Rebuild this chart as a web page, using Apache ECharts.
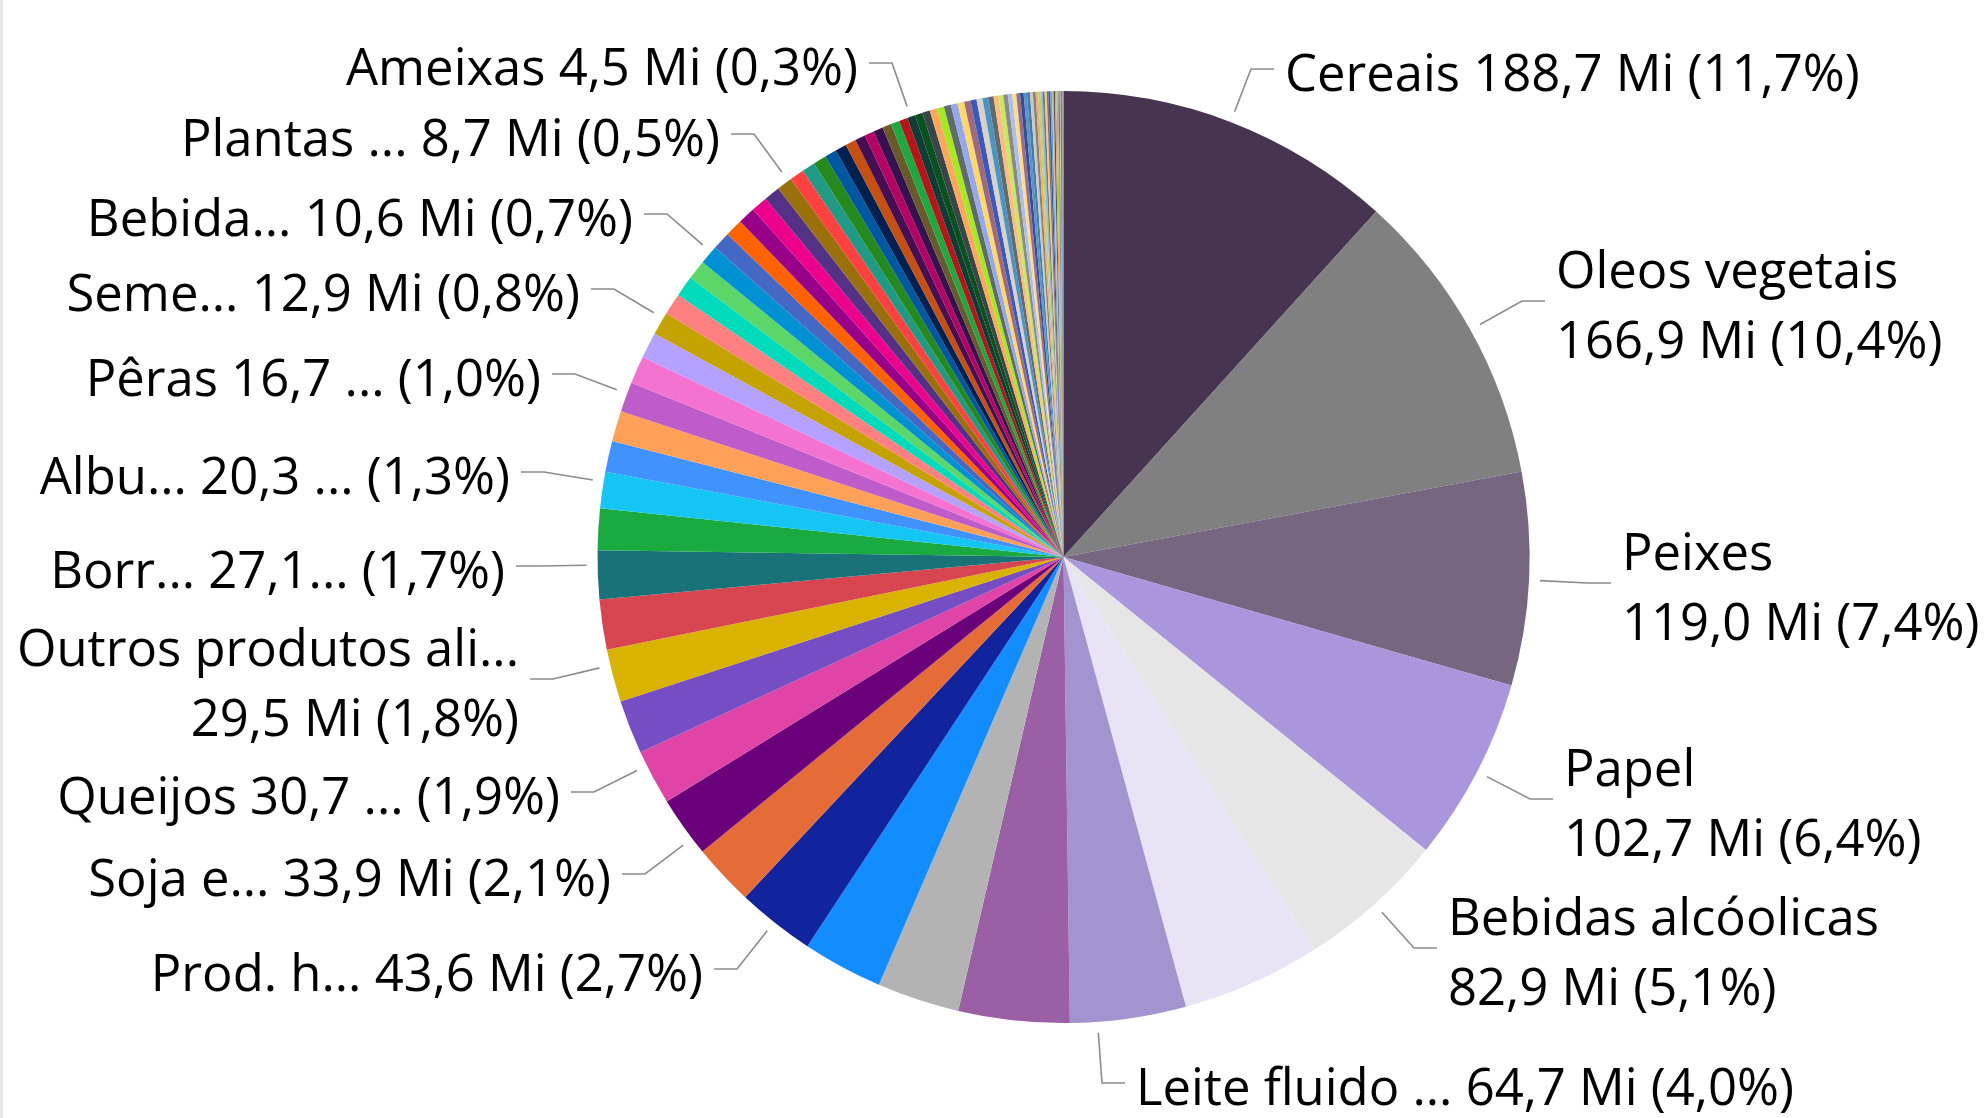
<!DOCTYPE html>
<html>
<head>
<meta charset="utf-8">
<script src="https://cdn.jsdelivr.net/npm/echarts@6/dist/echarts.min.js"></script>
<style>
    html, body { margin: 0; padding: 0; background: #fff; }
    #chart { width: 1985px; height: 1118px; }
</style>
</head>
<body>
<div id="chart"></div>
<script>
// valores em milhões, ordem decrescente (sentido horário a partir do topo)
const values = [
    188.7, 166.9, 119.0, 102.7, 82.9, 77.5, 64.7, 62.0, 46.0, 44.8,
    43.6, 34.5, 33.9, 30.7, 30.0, 29.5, 28.0, 27.1, 23.2, 20.3,
    17.4, 17.1, 16.7, 15.5, 14.5, 12.9, 12.0, 11.5, 11.0, 10.6,
    10.0, 9.9, 9.6, 9.2, 8.9, 8.7, 8.0, 7.4, 7.3, 6.6,
    6.3, 5.9, 5.8, 5.4, 5.3, 5.0, 4.9, 4.7, 4.5,
    4.3, 4.2, 4.1, 4.0, 3.9, 3.8, 3.7, 3.6, 3.4, 3.3, 3.2, 3.0,
    2.8, 2.6, 2.5, 2.4, 2.3, 2.1, 2.0,
    1.8, 1.7, 1.6, 1.5, 1.4, 1.3, 1.2, 1.1, 1.1, 1.0, 1.0, 0.9, 0.9,
    0.8, 0.8, 0.7, 0.6, 0.5, 0.5, 0.4, 0.3, 0.3, 0.2, 0.2, 0.1, 0.1
];

// só as categorias com rótulo visível têm nome
const categories = [
    'Cereais', 'Oleos vegetais', 'Peixes', 'Papel', 'Bebidas alcóolicas', null, 'Leite fluido ...', null, null, null,
    'Prod. h...', null, 'Soja e...', 'Queijos', null, 'Outros produtos ali...', null, 'Borr...', null, 'Albu...',
    null, null, 'Pêras', null, null, 'Seme...', null, null, null, 'Bebida...',
    null, null, null, null, null, 'Plantas ...', null, null, null, null,
    null, null, null, null, null, null, null, null, 'Ameixas'
];

const labelFormats = {
    'Cereais': '{n} {v} Mi ({p})',
    'Oleos vegetais': '{n}\n{v} Mi ({p})',
    'Peixes': '{n}\n{v} Mi ({p})',
    'Papel': '{n}\n{v} Mi ({p})',
    'Bebidas alcóolicas': '{n}\n{v} Mi ({p})',
    'Leite fluido ...': '{n} {v} Mi ({p})',
    'Prod. h...': '{n} {v} Mi ({p})',
    'Soja e...': '{n} {v} Mi ({p})',
    'Queijos': '{n} {v} ... ({p})',
    'Outros produtos ali...': '{n}\n{v} Mi ({p})',
    'Borr...': '{n} {v}... ({p})',
    'Albu...': '{n} {v} ... ({p})',
    'Pêras': '{n} {v} ... ({p})',
    'Seme...': '{n} {v} Mi ({p})',
    'Bebida...': '{n} {v} Mi ({p})',
    'Plantas ...': '{n} {v} Mi ({p})',
    'Ameixas': '{n} {v} Mi ({p})'
};

const colors = [
    '#473450', '#808080', '#776680', '#AA96DC', '#E6E6E6', '#E9E4F5', '#A393CF', '#9A5FA5', '#B3B3B3',
    '#118DFF', '#12239E', '#E66C37', '#6B007B', '#E044A7', '#744EC2', '#D9B300', '#D64550', '#197278', '#1AAB40',
    '#15C6F4', '#4092FF', '#FFA058', '#BE5DC9', '#F472D0', '#B5A1FF', '#C4A200', '#FF8080', '#00DBBC', '#5BD667',
    '#0091D5', '#4668C5', '#FF6300', '#99008A', '#EC008C', '#533285', '#99700A', '#FF4141', '#1F9A85', '#25891C',
    '#0057A2', '#002050', '#C94F0F', '#450F54', '#B60064', '#34124F', '#6A5A29', '#1AAB40', '#BA141A', '#0C3D37',
    '#0B511F', '#374649', '#FFA65C', '#A3EA1E', '#5F6B6D', '#93A8EE', '#FFD966', '#A0697E', '#3759C2', '#DCD0C2',
    '#4895C9', '#5F6B6D', '#FFBA80', '#C6EA5A', '#8A8A8A', '#A9BEF2', '#FEDD84', '#9C6E86', '#2E4FA0', '#5C93C0',
    '#3D7FB5', '#D4C9B0', '#7A8587', '#F7A871', '#B5DB52', '#9DB3EB', '#6E7A7C', '#F5CF66', '#8E6D80', '#2C5AA8',
    '#66A0CC', '#C9BBA5', '#4D5759', '#E89E5E', '#9FCB3E', '#8AA1DE', '#596466', '#E8C45A', '#7F5E73', '#254B92',
    '#578FBA', '#B8AA94', '#3F484A', '#D99050', '#8DBA33'
];

// posição dos rótulos: lado, borda do texto, centro vertical
const labelSpots = {
    'Cereais': ['r', 1285, 73],
    'Oleos vegetais': ['r', 1556, 305],
    'Peixes': ['r', 1622, 587],
    'Papel': ['r', 1564, 803],
    'Bebidas alcóolicas': ['r', 1448, 952],
    'Leite fluido ...': ['r', 1136, 1087],
    'Ameixas': ['l', 858, 67],
    'Plantas ...': ['l', 720, 138],
    'Bebida...': ['l', 633, 218],
    'Seme...': ['l', 580, 293],
    'Pêras': ['l', 541, 378],
    'Albu...': ['l', 510, 476],
    'Borr...': ['l', 505, 570],
    'Outros produtos ali...': ['l', 519, 683],
    'Queijos': ['l', 560, 796],
    'Soja e...': ['l', 611, 878],
    'Prod. h...': ['l', 703, 973]
};

const cx = 1063.5, cy = 557, R = 466;
const total = values.reduce((a, b) => a + b, 0);

function fmt(n) {
    return n.toFixed(1).replace('.', ',');
}

function buildData() {
    return values.map((v, i) => {
        let name = categories[i] || ('#' + (i + 1));
        let item = {name: name, value: v, itemStyle: {color: colors[i]}};
        if (!labelFormats[name]) {
            item.label = {show: false};
            item.labelLine = {show: false};
        }
        return item;
    });
}

function labelText(p) {
    let f = labelFormats[p.name];
    if (!f) return '';
    return f.replace('{n}', p.name)
        .replace('{v}', fmt(p.value))
        .replace('{p}', fmt(p.value / total * 100) + '%');
}

function setOption(chart) {
    let option = {
        backgroundColor: '#fff',
        animation: false,
        graphic: [{
            type: 'rect',
            shape: {x: 0, y: 0, width: 3, height: 1118},
            style: {fill: '#E6E6E6'}
        }],
        series: [{
            type: 'pie',
            center: [cx, cy],
            radius: R,
            startAngle: 90,
            clockwise: true,
            avoidLabelOverlap: false,
            data: buildData(),
            label: {
                show: true,
                fontFamily: 'Open Sans',
                fontSize: 50.8,
                lineHeight: 70,
                color: '#000',
                formatter: labelText
            },
            labelLine: {
                show: true,
                lineStyle: {color: '#8C8C8C', width: 1.6}
            },
            labelLayout: function (params) {
                let name = categories[params.dataIndex];
                let spot = name && labelSpots[name];
                if (!spot) return {};
                let side = spot[0], edgeX = spot[1], midY = spot[2];
                let dir = side === 'r' ? 1 : -1;
                let lineY = midY - 4;
                let elbow = [edgeX - dir * 34, lineY];
                let end = [edgeX - dir * 11, lineY];
                // primeiro segmento é radial
                let dx = elbow[0] - cx, dy = elbow[1] - cy;
                let len = Math.sqrt(dx * dx + dy * dy);
                let tip = [cx + dx / len * (R + 11), cy + dy / len * (R + 11)];
                return {
                    x: edgeX,
                    y: midY + 4,
                    align: side === 'r' ? 'left' : 'right',
                    verticalAlign: 'middle',
                    labelLinePoints: [tip, elbow, end]
                };
            }
        }]
    };
    chart.setOption(option);
}

const chart = echarts.init(document.getElementById('chart'), null, {renderer: 'canvas'});
setOption(chart);
</script>
</body>
</html>
